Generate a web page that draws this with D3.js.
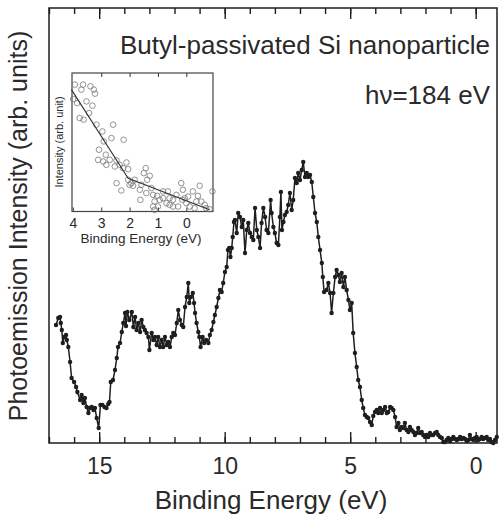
<!DOCTYPE html>
<html>
<head>
<meta charset="utf-8">
<script src="https://cdn.jsdelivr.net/npm/d3@7"></script>
<style>
  body { margin: 0; background: #fff; }
  svg text { font-family: "Liberation Sans", Arial, Helvetica, sans-serif; fill: #2a2a2a; }
</style>
</head>
<body>
<svg id="chart" width="499" height="516"></svg>
<script>
// binding energy (eV) and photoemission intensity (arb. units)
var energy = [16.72,16.63,16.56,16.53,16.49,16.45,16.40,16.32,16.29,16.23,16.16,16.10,16.00,15.92,15.87,15.76,15.70,15.63,15.57,15.50,
  15.43,15.37,15.30,15.23,15.17,15.10,15.02,14.95,14.87,14.79,14.71,14.64,14.59,14.54,14.45,14.37,14.30,14.25,14.17,14.10,
  14.04,13.97,13.93,13.88,13.80,13.70,13.64,13.57,13.51,13.44,13.37,13.31,13.24,13.18,13.11,13.04,13.00,12.91,12.84,12.78,
  12.71,12.65,12.58,12.51,12.45,12.38,12.31,12.25,12.18,12.11,12.05,11.98,11.91,11.85,11.78,11.71,11.65,11.58,11.51,11.45,
  11.41,11.35,11.27,11.22,11.18,11.12,11.05,11.01,10.96,10.88,10.82,10.74,10.65,10.59,10.52,10.45,10.39,10.32,10.25,10.19,
  10.12,10.06,9.99,9.92,9.87,9.82,9.77,9.72,9.68,9.63,9.59,9.52,9.46,9.39,9.32,9.26,9.19,9.12,9.06,8.99,
  8.92,8.86,8.79,8.72,8.66,8.59,8.53,8.46,8.39,8.33,8.26,8.17,8.13,8.06,8.00,7.93,7.86,7.80,7.76,7.72,
  7.66,7.60,7.53,7.47,7.40,7.33,7.27,7.20,7.13,7.07,7.00,6.93,6.87,6.80,6.73,6.67,6.60,6.53,6.47,6.40,
  6.33,6.27,6.20,6.13,6.09,6.04,5.94,5.87,5.80,5.74,5.67,5.60,5.54,5.47,5.41,5.34,5.27,5.21,5.14,5.07,
  5.01,4.94,4.88,4.81,4.74,4.68,4.61,4.54,4.48,4.41,4.34,4.28,4.21,4.14,4.08,4.01,3.94,3.88,3.81,3.74,
  3.68,3.61,3.54,3.48,3.41,3.35,3.28,3.21,3.15,3.08,3.02,2.95,2.88,2.82,2.75,2.68,2.62,2.55,2.48,2.42,
  2.35,2.29,2.22,2.15,2.09,2.02,1.95,1.89,1.82,1.75,1.69,1.62,1.55,1.49,1.42,1.35,1.29,1.22,1.16,1.09,
  1.02,0.95,0.89,0.82,0.75,0.69,0.62,0.56,0.49,0.42,0.36,0.29,0.23,0.16,0.09,0.03,-0.04,-0.10,-0.17,-0.24,
  -0.30,-0.37,-0.44,-0.50,-0.57,-0.63,-0.70,-0.77,-0.84];
var intensity = [118,125,126,120,113,100,106,108,103,96,81,65,61,56,51,43,48,40,45,36,
  30,35,36,33,35,25,15,38,38,36,35,39,41,61,63,73,85,96,100,111,
  120,130,117,131,123,131,116,126,113,120,111,123,116,113,110,106,93,110,103,106,
  98,106,96,103,96,106,98,101,96,106,110,108,120,133,123,118,116,136,146,160,
  140,146,150,140,130,120,111,106,96,106,100,103,100,108,113,121,128,136,145,153,
  151,160,171,176,193,195,186,195,206,221,223,210,230,226,216,223,190,213,220,210,
  206,203,235,213,206,195,220,235,226,213,210,243,230,216,210,200,198,226,251,213,
  221,228,231,238,250,233,243,265,260,270,263,273,281,266,270,266,268,261,246,230,
  221,206,193,180,166,151,153,160,150,130,150,166,173,168,161,170,156,166,153,143,
  133,140,110,90,76,63,56,43,35,28,26,25,21,18,27,31,33,30,35,30,
  33,36,30,31,36,35,33,26,16,20,13,16,15,20,13,11,16,13,11,8,
  10,15,10,11,8,6,8,6,10,8,8,10,11,8,6,5,1,1,3,5,
  2,4,6,4,3,4,6,4,5,4,2,3,8,4,3,5,6,3,4,6,
  4,5,6,3,4,1,0,3,6];

// inset: valence-band edge data points and linear fits
var insetEnergy = [3.93,3.64,3.70,3.38,3.26,3.22,3.99,3.85,3.52,3.31,3.43,3.76,3.62,3.17,2.96,2.58,2.64,2.21,2.91,3.08,
  2.84,3.11,2.93,2.70,2.82,2.46,2.52,2.35,2.11,2.23,2.05,1.43,1.50,1.29,1.38,2.46,2.00,1.82,1.88,2.29,
  1.58,1.64,1.23,1.62,1.17,1.03,0.82,0.65,0.94,1.12,1.17,0.82,0.59,0.70,0.47,0.35,0.18,0.12,0.14,0.29,
  -0.06,0.00,-0.23,-0.47,-0.41,-0.53,-0.65,-0.70,-0.82,-0.92,1.00,0.59,-0.12,-0.29,1.12,1.41,2.05,1.94,0.47,0.06,-0.35];
var insetIntensity = [91.6,91.6,88.0,90.4,88.0,85.1,81.2,78.3,79.5,76.4,71.1,67.5,66.3,62.7,57.8,62.7,53.0,51.8,50.6,44.6,
  41.0,37.3,36.1,37.3,33.7,36.9,32.5,33.7,35.4,31.3,30.6,31.3,27.7,25.8,22.9,20.5,19.3,22.9,18.6,15.2,
  19.3,15.7,16.9,8.4,12.0,11.3,14.5,14.5,8.4,7.2,3.6,9.6,9.6,6.0,8.4,12.0,20.5,15.7,8.4,3.6,
  10.8,6.0,14.5,18.6,11.3,7.2,4.8,2.4,1.7,14.5,3.6,4.8,3.6,2.4,1.2,13.3,22.9,20.5,3.6,9.6,7.2];
var fitEnergy = [4.05, 2.05, -0.82];
var fitIntensity = [88, 24, 1.2];

var xTicks = [15, 10, 5, 0];
var insetTicks = [4, 3, 2, 1, 0];

var svg = d3.select("#chart");
var ink = "#1e1e1e";
var font = "'Liberation Sans', Arial, sans-serif";

// ---- main plot
var mLeft = 49, mRight = 497, mTop = 8, mBottom = 443;

var x = d3.scaleLinear().domain([17, -0.85]).range([mLeft, mRight]);
var y = d3.scaleLinear().domain([0, 435]).range([mBottom, mTop]);

var data = energy.map(function(e, i) { return {e: e, v: intensity[i]}; });

function styleTicks(g) {
  g.select(".domain").remove();
  g.selectAll("line").attr("stroke", ink).attr("stroke-width", 1.4);
}

// minor ticks every 1 eV, major every 5 eV, drawn inward on bottom and top
svg.append("g").attr("transform", "translate(0," + mBottom + ")")
  .call(d3.axisBottom(x).tickValues(d3.range(0, 18)).tickSize(-6).tickFormat(""))
  .call(styleTicks);
svg.append("g").attr("transform", "translate(0," + mTop + ")")
  .call(d3.axisTop(x).tickValues(d3.range(0, 18)).tickSize(-6).tickFormat(""))
  .call(styleTicks);

svg.append("g").attr("transform", "translate(0," + mBottom + ")")
  .call(d3.axisBottom(x).tickValues(xTicks).tickSize(-11).tickPadding(15))
  .call(styleTicks)
  .call(function(g) {
    g.selectAll("text").attr("font-size", 23).attr("fill", "#2a2a2a").attr("font-family", font);
  });
svg.append("g").attr("transform", "translate(0," + mTop + ")")
  .call(d3.axisTop(x).tickValues(xTicks).tickSize(-11).tickFormat(""))
  .call(styleTicks);

// frame
svg.append("rect").attr("x", mLeft).attr("y", mTop).attr("width", mRight - mLeft).attr("height", mBottom - mTop)
  .attr("fill", "none").attr("stroke", ink).attr("stroke-width", 1.5);

// spectrum
var line = d3.line().x(function(d) { return x(d.e); }).y(function(d) { return y(d.v); });
svg.append("path").datum(data).attr("d", line)
  .attr("fill", "none").attr("stroke", ink).attr("stroke-width", 1.5).attr("stroke-linejoin", "round");
svg.append("g").selectAll("circle").data(data).enter().append("circle")
  .attr("cx", function(d) { return x(d.e); })
  .attr("cy", function(d) { return y(d.v); })
  .attr("r", 2.2).attr("fill", ink);

// labels
svg.append("text").attr("x", 271).attr("y", 509).attr("text-anchor", "middle")
  .attr("font-size", 26).text("Binding Energy (eV)");
svg.append("text").attr("transform", "translate(27,226) rotate(-90)").attr("text-anchor", "middle")
  .attr("font-size", 25).text("Photoemission Intensity (arb. units)");
svg.append("text").attr("x", 490).attr("y", 54).attr("text-anchor", "end")
  .attr("font-size", 26).text("Butyl-passivated Si nanoparticle");
svg.append("text").attr("x", 490).attr("y", 104).attr("text-anchor", "end")
  .attr("font-size", 26).text("h\u03bd=184 eV");

// ---- inset
var iL = 72, iR = 213, iT = 73, iB = 211.5;
var ix = d3.scaleLinear().domain([4.03, -0.94]).range([iL, iR]);
var iy = d3.scaleLinear().domain([0, 100]).range([iB, iT]);

var inset = svg.append("g");
inset.append("rect").attr("x", iL).attr("y", iT).attr("width", iR - iL).attr("height", iB - iT)
  .attr("fill", "#fff").attr("stroke", "#444").attr("stroke-width", 1.2);

inset.append("g").attr("transform", "translate(0," + iB + ")")
  .call(d3.axisBottom(ix).tickValues(insetTicks).tickSize(-4).tickPadding(7).tickFormat(d3.format("d")))
  .call(function(g) {
    g.select(".domain").remove();
    g.selectAll("line").attr("stroke", "#444").attr("stroke-width", 1.1);
    g.selectAll("text").attr("font-size", 14).attr("fill", "#2a2a2a").attr("font-family", font);
  });
inset.append("g").attr("transform", "translate(0," + iT + ")")
  .call(d3.axisTop(ix).tickValues(insetTicks.filter(function(t) { return t < 4; })).tickSize(-4).tickFormat(""))
  .call(function(g) { g.select(".domain").remove(); g.selectAll("line").attr("stroke", "#444").attr("stroke-width", 1.1); });

var pts = insetEnergy.map(function(e, i) { return {e: e, v: insetIntensity[i]}; });
inset.append("g").selectAll("circle").data(pts).enter().append("circle")
  .attr("cx", function(d) { return ix(d.e); })
  .attr("cy", function(d) { return iy(d.v); })
  .attr("r", 2.8).attr("fill", "none").attr("stroke", "#777").attr("stroke-width", 0.8);

var fit = fitEnergy.map(function(e, i) { return {e: e, v: fitIntensity[i]}; });
inset.append("path").datum(fit)
  .attr("d", d3.line().x(function(d) { return ix(d.e); }).y(function(d) { return iy(d.v); }))
  .attr("fill", "none").attr("stroke", "#333").attr("stroke-width", 1.1);

inset.append("text").attr("x", 141).attr("y", 243).attr("text-anchor", "middle")
  .attr("font-size", 13.5).text("Binding Energy (eV)");
inset.append("text").attr("transform", "translate(63,142) rotate(-90)").attr("text-anchor", "middle")
  .attr("font-size", 11).text("Intensity (arb. unit)");
</script>
</body>
</html>
